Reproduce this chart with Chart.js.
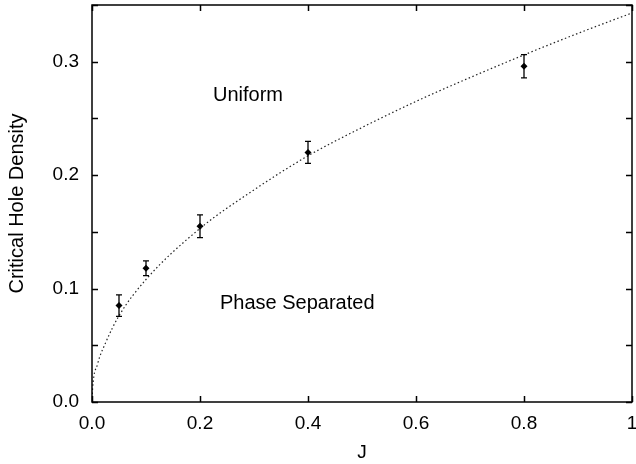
<!DOCTYPE html>
<html>
<head>
<meta charset="utf-8">
<script src="https://cdn.jsdelivr.net/npm/chart.js@4/dist/chart.umd.min.js"></script>
<style>
  html, body { margin: 0; padding: 0; background: #fff; }
</style>
</head>
<body>
<canvas id="phaseChart" width="636" height="464"></canvas>
<script>
// Measured critical hole density vs J, with error bars
const jValues = [0.05, 0.1, 0.2, 0.4, 0.8];
const holeDensity = [0.085, 0.118, 0.155, 0.220, 0.296];
const densityError = [0.0095, 0.0065, 0.010, 0.0097, 0.0102];

// Fitted phase boundary (dotted curve)
const fitJ = [0, 0.001, 0.01, 0.025, 0.05, 0.1, 0.2, 0.3, 0.4, 0.5, 0.6, 0.7, 0.8, 0.9, 1.0];
const fitDensity = [0, 0.011, 0.033, 0.052, 0.076, 0.108, 0.153, 0.187, 0.217, 0.242, 0.265, 0.286, 0.306, 0.325, 0.343];

// Tick labels
const xTickLabels = ['0.0', '0.2', '0.4', '0.6', '0.8', '1'];
const yTickLabels = ['0.0', '0.1', '0.2', '0.3'];

const FONT = 'Liberation Sans, Arial, Helvetica, sans-serif';

// Box around the plot with inward tick marks on all four sides
const frameTicks = {
    id: 'frameTicks',
    afterDraw(chart) {
        const { ctx, chartArea: a, scales } = chart;
        const len = 6;
        ctx.save();
        ctx.strokeStyle = '#000';
        ctx.lineWidth = 1.5;
        ctx.beginPath();
        scales.x.ticks.forEach(t => {
            const px = Math.round(scales.x.getPixelForValue(t.value)) + 0.5;
            ctx.moveTo(px, a.bottom); ctx.lineTo(px, a.bottom - len);
            ctx.moveTo(px, a.top); ctx.lineTo(px, a.top + len);
        });
        scales.y.ticks.forEach(t => {
            const py = Math.round(scales.y.getPixelForValue(t.value)) + 0.5;
            ctx.moveTo(a.left, py); ctx.lineTo(a.left + len, py);
            ctx.moveTo(a.right, py); ctx.lineTo(a.right - len, py);
        });
        ctx.stroke();
        ctx.strokeRect(a.left, a.top, a.right - a.left, a.bottom - a.top);
        ctx.restore();
    }
};

// Vertical error bars with small caps
const errorBars = {
    id: 'errorBars',
    afterDatasetsDraw(chart) {
        const { ctx, scales } = chart;
        const cap = 3;
        ctx.save();
        ctx.strokeStyle = '#000';
        ctx.lineWidth = 1.3;
        ctx.beginPath();
        jValues.forEach((j, i) => {
            const px = scales.x.getPixelForValue(j);
            const top = scales.y.getPixelForValue(holeDensity[i] + densityError[i]);
            const bot = scales.y.getPixelForValue(holeDensity[i] - densityError[i]);
            ctx.moveTo(px, top); ctx.lineTo(px, bot);
            ctx.moveTo(px - cap, top); ctx.lineTo(px + cap, top);
            ctx.moveTo(px - cap, bot); ctx.lineTo(px + cap, bot);
        });
        ctx.stroke();
        ctx.restore();
    }
};

// Region labels inside the plot
const regionLabels = {
    id: 'regionLabels',
    afterDraw(chart) {
        const { ctx, scales } = chart;
        ctx.save();
        ctx.fillStyle = '#000';
        ctx.font = '20px ' + FONT;
        ctx.textAlign = 'left';
        ctx.textBaseline = 'middle';
        ctx.fillText('Uniform', scales.x.getPixelForValue(0.224), scales.y.getPixelForValue(0.270));
        ctx.fillText('Phase Separated', scales.x.getPixelForValue(0.237), scales.y.getPixelForValue(0.0865));
        ctx.restore();
    }
};

const ctx = document.getElementById('phaseChart').getContext('2d');

new Chart(ctx, {
    type: 'scatter',
    data: {
        datasets: [
            {
                label: 'fit',
                data: fitJ.map((j, i) => ({ x: j, y: fitDensity[i] })),
                showLine: true,
                borderColor: '#222',
                borderWidth: 1.2,
                borderDash: [1.5, 2.5],
                pointRadius: 0,
                cubicInterpolationMode: 'monotone',
                fill: false
            },
            {
                label: 'data',
                data: jValues.map((j, i) => ({ x: j, y: holeDensity[i] })),
                pointStyle: 'rectRot',
                pointRadius: 3.5,
                backgroundColor: '#000',
                borderColor: '#000',
                borderWidth: 0
            }
        ]
    },
    options: {
        responsive: false,
        animation: false,
        layout: { padding: { left: 0, right: 4, top: 5, bottom: 0 } },
        plugins: {
            legend: { display: false },
            tooltip: { enabled: false }
        },
        scales: {
            x: {
                type: 'linear',
                min: 0,
                max: 1,
                grid: { display: false, drawTicks: false },
                border: { display: false },
                ticks: {
                    stepSize: 0.2,
                    padding: 10,
                    color: '#000',
                    font: { family: FONT, size: 19 },
                    maxRotation: 0,
                    callback: (v, i) => xTickLabels[i]
                },
                title: {
                    display: true,
                    text: 'J',
                    color: '#000',
                    font: { family: FONT, size: 19 },
                    padding: { top: 0, bottom: 0 }
                },
                afterFit(scale) {
                    scale.height = 62;
                    scale.paddingLeft = 0;
                    scale.paddingRight = 0;
                }
            },
            y: {
                type: 'linear',
                min: 0,
                max: 0.35,
                grid: { display: false, drawTicks: false },
                border: { display: false },
                ticks: {
                    stepSize: 0.05,
                    padding: 13,
                    color: '#000',
                    font: { family: FONT, size: 19 },
                    autoSkip: false,
                    callback: (v, i) => (i % 2 === 0 ? (yTickLabels[i / 2] || '') : '')
                },
                title: {
                    display: true,
                    text: 'Critical Hole Density',
                    color: '#000',
                    font: { family: FONT, size: 20 },
                    padding: { top: 5, bottom: 0 }
                },
                afterFit(scale) {
                    scale.width = 92;
                    scale.paddingTop = 0;
                    scale.paddingBottom = 0;
                }
            }
        }
    },
    plugins: [errorBars, frameTicks, regionLabels]
});
</script>
</body>
</html>
